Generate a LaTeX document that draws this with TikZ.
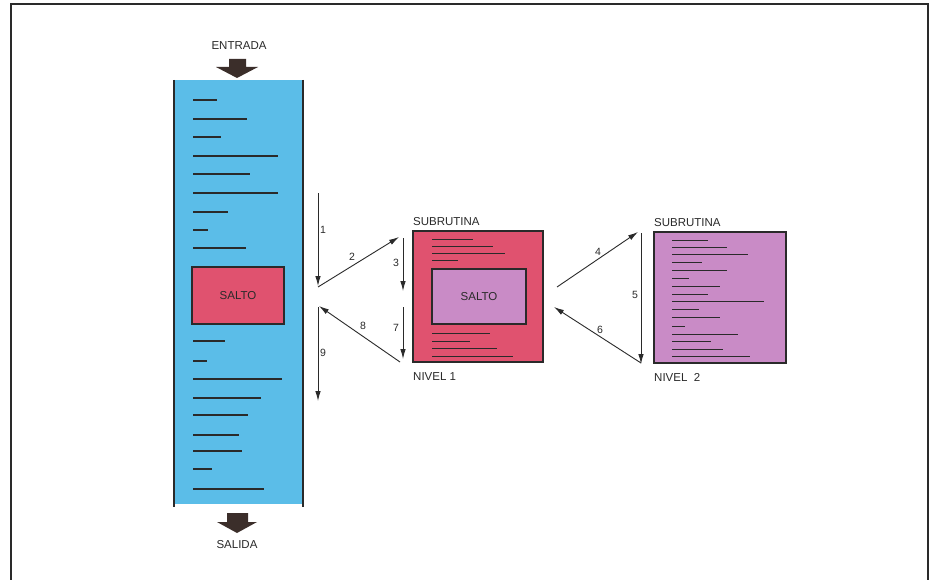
\documentclass[tikz,border=0pt]{standalone}
\usepackage{fontspec}
\setmainfont{Liberation Sans}
\usetikzlibrary{arrows.meta}
\definecolor{colblue}{HTML}{5BBDE8}
\definecolor{boxred}{HTML}{E0526F}
\definecolor{boxviolet}{HTML}{C98BC6}
\definecolor{darkarrow}{HTML}{3B2E2A}
\definecolor{ink}{HTML}{2A2A2A}
\tikzset{
  lbl/.style={font=\fontsize{11.5}{13}\selectfont, text=ink, inner sep=0pt},
  num/.style={font=\fontsize{10.5}{12}\selectfont, text=ink, inner sep=0pt},
  flow/.style={draw=ink, line width=0.9pt, -{Latex[length=10pt,width=5.5pt]}},
  codeline/.style={draw=ink, line width=1.4pt},
  smallline/.style={draw=ink, line width=0.8pt},
  blockarrow/.style={fill=darkarrow, draw=none},
}
\begin{document}
\begin{tikzpicture}[x=1pt,y=-1pt]
\useasboundingbox (0,0) rectangle (936,580);
\fill[white] (0,0) rectangle (936,580);
% frame
\draw[ink, line width=1.6pt] (11,580) -- (11,4) -- (928,4) -- (928,580);

% main column
\fill[colblue] (174,80) rectangle (303,504);
\draw[ink, line width=1.3pt] (174,80) -- (174,507);
\draw[ink, line width=1.3pt] (303,80) -- (303,507);

% ENTRADA
\node[lbl] (entrada) at (239,46) {ENTRADA};
\fill[blockarrow] (229,59) -- (246,59) -- (246,67) -- (258,67) -- (237,78) -- (216,67) -- (229,67) -- cycle;
% SALIDA
\fill[blockarrow] (227,513) -- (248,513) -- (248,522) -- (257,522) -- (237,533) -- (217,522) -- (227,522) -- cycle;
\node[lbl] (salida) at (237,545) {SALIDA};

% code lines in column
\foreach \y/\xe in {100/217,119/247,137/221,156/278,174/250,193/278,212/228,230/208,248/246,
                    341/225,361/207,379/282,398/261,415/248,435/239,451/242,469/212,489/264}
  \draw[codeline] (193,\y) -- (\xe,\y);

% SALTO in main column
\node[draw=ink, line width=1.3pt, fill=boxred, minimum width=92pt, minimum height=57pt, inner sep=0pt,
      font=\fontsize{11.5}{13}\selectfont, text=ink] (salto0) at (238,295.5) {SALTO};

% Subroutine level 1
\node[draw=ink, line width=1.3pt, fill=boxred, minimum width=130pt, minimum height=131pt, inner sep=0pt] (sub1) at (478,296.5) {};
\node[lbl, anchor=west] (sub1title) at (413,222) {SUBRUTINA};
\node[lbl, anchor=west] (nivel1) at (413,377) {NIVEL 1};
\node[draw=ink, line width=1.3pt, fill=boxviolet, minimum width=94pt, minimum height=55pt, inner sep=0pt,
      font=\fontsize{11.5}{13}\selectfont, text=ink] (salto1) at (479,296.5) {SALTO};
\foreach \y/\xe in {239/473,246/493,253/505,260/458,333/490,341/470,348/497,356/513}
  \draw[smallline] (432,\y) -- (\xe,\y);

% Subroutine level 2
\node[draw=ink, line width=1.3pt, fill=boxviolet, minimum width=132pt, minimum height=131pt, inner sep=0pt] (sub2) at (720,297.5) {};
\node[lbl, anchor=west] (sub2title) at (654,223) {SUBRUTINA};
\node[lbl, anchor=west] (nivel2) at (654,377) {NIVEL\ \ 2};
\foreach \y/\xe in {240/708,247.3/727,254/748,262.3/702,270.7/727,278.3/689,286/720,294/708,301.7/764,309.3/699,317.3/720,326/685,334/738,341.7/711,349.3/723,356.7/750}
  \draw[smallline] (672,\y) -- (\xe,\y);

% arrow coordinates
\coordinate (a1s) at (318,193);
\coordinate (a1e) at (318,286);
\coordinate (a2s) at (318,287);
\coordinate (a2e) at (399,237);
\coordinate (a3s) at (403,238);
\coordinate (a3e) at (403,291);
\coordinate (a7s) at (403,307);
\coordinate (a7e) at (403,359);
\coordinate (a8s) at (400,362);
\coordinate (a8e) at (319,306);
\coordinate (a9s) at (318,307);
\coordinate (a9e) at (318,401);
\coordinate (a4s) at (557,287);
\coordinate (a4e) at (638,232);
\coordinate (a5s) at (641,233);
\coordinate (a5e) at (641,364);
\coordinate (a6s) at (641,363);
\coordinate (a6e) at (554,307);

\draw[flow] (a1s) -- (a1e);
\draw[flow] (a2s) -- (a2e);
\draw[flow] (a3s) -- (a3e);
\draw[flow] (a4s) -- (a4e);
\draw[flow] (a5s) -- (a5e);
\draw[flow] (a6s) -- (a6e);
\draw[flow] (a7s) -- (a7e);
\draw[flow] (a8s) -- (a8e);
\draw[flow] (a9s) -- (a9e);

\node[num] (n1) at (323,230) {1};
\node[num] (n2) at (352,257) {2};
\node[num] (n3) at (396,263) {3};
\node[num] (n4) at (598,252) {4};
\node[num] (n5) at (635,295) {5};
\node[num] (n6) at (600,330) {6};
\node[num] (n7) at (396,328) {7};
\node[num] (n8) at (363,326) {8};
\node[num] (n9) at (323,353) {9};
\end{tikzpicture}
\end{document}
